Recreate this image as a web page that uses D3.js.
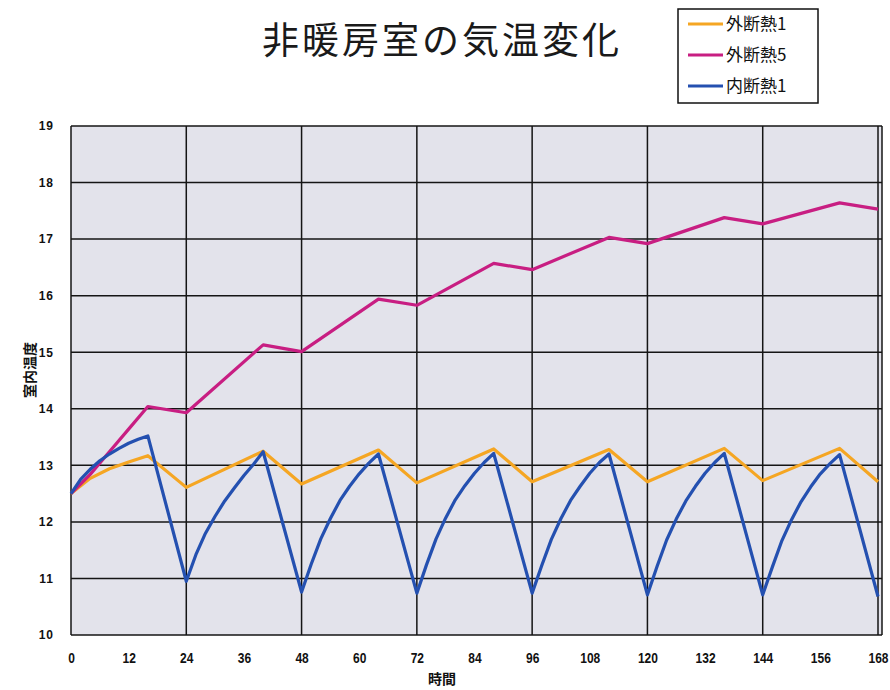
<!DOCTYPE html>
<html>
<head>
<meta charset="utf-8">
<script src="https://cdn.jsdelivr.net/npm/d3@7"></script>
<style>
  html, body { margin: 0; padding: 0; background: #ffffff; }
  svg { display: block; }
</style>
</head>
<body>
<svg id="chart" width="890" height="690"></svg>
<script>
// Indoor temperature of an unheated room over one week (hours 0–168)
const titleText = "非暖房室の気温変化";
const xTitle = "時間";
const yTitle = "室内温度";
const seriesNames = ["外断熱1", "外断熱5", "内断熱1"];
const seriesColors = ["#f5a623", "#c81e82", "#2450b0"];

const xTicks = [0, 12, 24, 36, 48, 60, 72, 84, 96, 108, 120, 132, 144, 156, 168];
const xGrid = [0, 24, 48, 72, 96, 120, 144, 168];
const yTicks = [10, 11, 12, 13, 14, 15, 16, 17, 18, 19];

// 外断熱1 and 外断熱5 share the same turning points
const extHours = [0, 4, 8, 12, 16, 24, 40, 48, 64, 72, 88, 96, 112, 120, 136, 144, 160, 168];
const ext1Temps = [12.5, 12.77, 12.94, 13.06, 13.17, 12.61, 13.25, 12.67, 13.27, 12.69, 13.29, 12.71, 13.28, 12.71, 13.30, 12.73, 13.30, 12.71];
const ext5Temps = [12.5, 12.84, 13.24, 13.64, 14.04, 13.93, 15.13, 15.01, 15.94, 15.83, 16.57, 16.46, 17.03, 16.92, 17.38, 17.27, 17.64, 17.53];

// 内断熱1: warming curves sampled every 2 hours, straight cool-down to each trough
const intHours = [
  0, 2, 4, 6, 8, 10, 12, 14, 16,
  24, 26, 28, 30, 32, 34, 36, 38, 40,
  48, 50, 52, 54, 56, 58, 60, 62, 64,
  72, 74, 76, 78, 80, 82, 84, 86, 88,
  96, 98, 100, 102, 104, 106, 108, 110, 112,
  120, 122, 124, 126, 128, 130, 132, 134, 136,
  144, 146, 148, 150, 152, 154, 156, 158, 160,
  168
];
const int1Temps = [
  12.5, 12.75, 12.93, 13.08, 13.2, 13.3, 13.39, 13.46, 13.52,
  10.95, 11.42, 11.8, 12.1, 12.37, 12.6, 12.82, 13.02, 13.24,
  10.76, 11.25, 11.7, 12.06, 12.38, 12.63, 12.85, 13.04, 13.2,
  10.74, 11.24, 11.7, 12.07, 12.39, 12.64, 12.86, 13.05, 13.21,
  10.74, 11.23, 11.69, 12.06, 12.38, 12.63, 12.86, 13.05, 13.2,
  10.71, 11.21, 11.68, 12.05, 12.37, 12.63, 12.86, 13.05, 13.21,
  10.71, 11.2, 11.67, 12.04, 12.36, 12.62, 12.85, 13.03, 13.19,
  10.68
];

const series = [
  { name: seriesNames[0], color: seriesColors[0], hours: extHours, temps: ext1Temps },
  { name: seriesNames[1], color: seriesColors[1], hours: extHours, temps: ext5Temps },
  { name: seriesNames[2], color: seriesColors[2], hours: intHours, temps: int1Temps }
];

const svg = d3.select("#chart");
const plot = { left: 71, right: 878, top: 126, bottom: 635, frameRight: 882 };

const x = d3.scaleLinear().domain([0, 168]).range([plot.left, plot.right]);
const y = d3.scaleLinear().domain([10, 19]).range([plot.bottom, plot.top]);

const cjk = "'Noto Sans CJK JP', 'Noto Sans', sans-serif";
const numFont = "'Liberation Sans', Arial, sans-serif";

// plot background
svg.append("rect")
  .attr("x", plot.left).attr("y", plot.top)
  .attr("width", plot.frameRight - plot.left).attr("height", plot.bottom - plot.top)
  .attr("fill", "#e3e3eb");

// grid
const grid = svg.append("g").attr("stroke", "#151515").attr("stroke-width", 1.5);
grid.selectAll("line.h").data(yTicks).join("line")
  .attr("class", "h")
  .attr("x1", plot.left).attr("x2", plot.frameRight)
  .attr("y1", d => y(d)).attr("y2", d => y(d));
grid.selectAll("line.v").data(xGrid).join("line")
  .attr("class", "v")
  .attr("x1", d => x(d)).attr("x2", d => x(d))
  .attr("y1", plot.top).attr("y2", plot.bottom);
grid.append("line")
  .attr("x1", plot.frameRight).attr("x2", plot.frameRight)
  .attr("y1", plot.top).attr("y2", plot.bottom);

// axes (labels only; lines come from the grid)
const xAxis = svg.append("g")
  .attr("transform", `translate(0,${plot.bottom})`)
  .call(d3.axisBottom(x).tickValues(xTicks).tickSize(0).tickPadding(17).tickFormat(d3.format("d")));
xAxis.select(".domain").remove();
xAxis.selectAll("text")
  .attr("font-family", numFont).attr("font-weight", "bold").attr("font-size", 15)
  .attr("transform", "scale(0.8,1)")
  .attr("fill", "#111");

const yAxis = svg.append("g")
  .attr("transform", `translate(${plot.left},0)`)
  .call(d3.axisLeft(y).tickValues(yTicks).tickSize(0).tickPadding(17).tickFormat(d3.format("d")));
yAxis.select(".domain").remove();
yAxis.selectAll("text")
  .attr("font-family", numFont).attr("font-weight", "bold")
  .attr("font-size", 12).attr("letter-spacing", 1).attr("fill", "#111");

// series lines
const line = d3.line().x(d => x(d[0])).y(d => y(d[1]));
svg.append("g").selectAll("path").data(series).join("path")
  .attr("d", s => line(s.hours.map((h, i) => [h, s.temps[i]])))
  .attr("fill", "none")
  .attr("stroke", s => s.color)
  .attr("stroke-width", 3.2)
  .attr("stroke-linejoin", "round");

// title
svg.append("text")
  .attr("x", 442).attr("y", 54)
  .attr("text-anchor", "middle")
  .attr("font-family", cjk).attr("font-size", 37).attr("letter-spacing", 3)
  .attr("fill", "#1a1a1a")
  .text(titleText);

// axis titles
svg.append("text")
  .attr("x", 442).attr("y", 684)
  .attr("text-anchor", "middle")
  .attr("font-family", cjk).attr("font-weight", "bold").attr("font-size", 14)
  .attr("fill", "#111")
  .text(xTitle);

svg.append("text")
  .attr("transform", "translate(30,370) rotate(-90)")
  .attr("dy", "0.35em")
  .attr("text-anchor", "middle")
  .attr("font-family", cjk).attr("font-weight", "bold").attr("font-size", 14)
  .attr("fill", "#111")
  .text(yTitle);

// legend
const legend = svg.append("g").attr("transform", "translate(678,9)");
legend.append("rect")
  .attr("width", 140).attr("height", 94)
  .attr("fill", "#ffffff").attr("stroke", "#111").attr("stroke-width", 1.5);
const rows = legend.selectAll("g.row").data(series).join("g")
  .attr("class", "row")
  .attr("transform", (d, i) => `translate(0,${15 + i * 31})`);
rows.append("line")
  .attr("x1", 10).attr("x2", 45)
  .attr("stroke", d => d.color).attr("stroke-width", 3);
rows.append("text")
  .attr("x", 48).attr("dy", "0.35em")
  .attr("font-family", cjk).attr("font-size", 17)
  .attr("fill", "#111")
  .text(d => d.name);
</script>
</body>
</html>
